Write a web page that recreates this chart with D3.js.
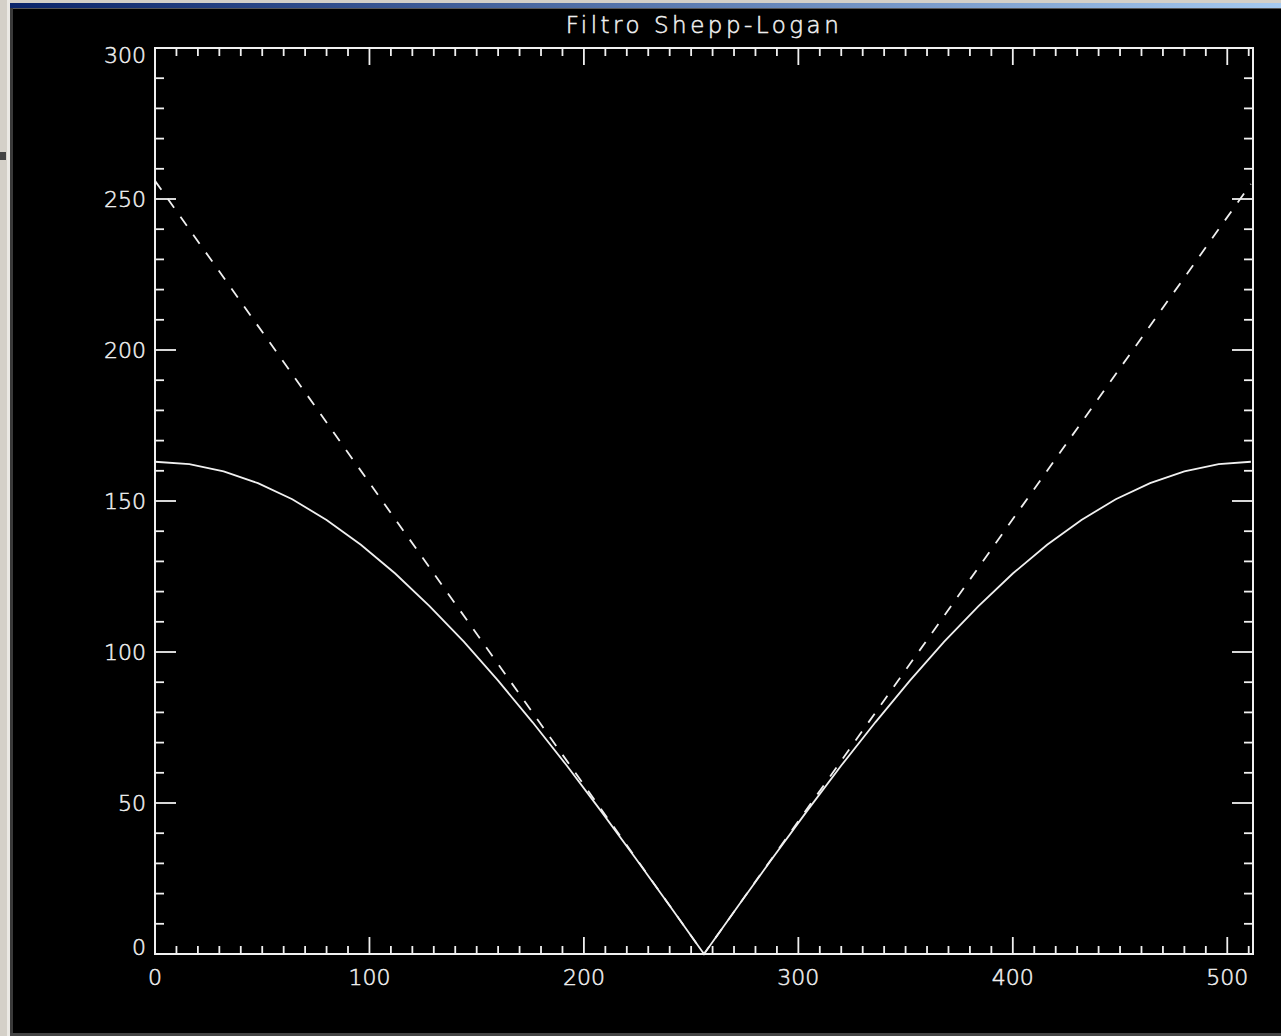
<!DOCTYPE html>
<html>
<head>
<meta charset="utf-8">
<script src="https://cdn.jsdelivr.net/npm/d3@7"></script>
<style>
  body { margin: 0; background: #000; }
  svg { display: block; }
</style>
</head>
<body>
<div id="svg-area"></div>
<script>
// filter index (x) and values
var xIndex = [0, 16, 32, 48, 64, 80, 96, 112, 128, 144, 160, 176, 192, 208, 224, 240, 256,
  272, 288, 304, 320, 336, 352, 368, 384, 400, 416, 432, 448, 464, 480, 496, 511];
var sheppLogan = [163.0, 162.2, 159.8, 155.9, 150.6, 143.7, 135.5, 126.0, 115.2, 103.4, 90.5, 76.8, 62.4, 47.3, 31.8, 16.0, 0,
  16.0, 31.8, 47.3, 62.4, 76.8, 90.5, 103.4, 115.2, 126.0, 135.5, 143.7, 150.6, 155.9, 159.8, 162.2, 163.0];
// ramp (dashed)
var rampX = [0, 256, 511];
var rampY = [256, 0, 255];

var xTicks = [0, 100, 200, 300, 400, 500];
var yTicks = [0, 50, 100, 150, 200, 250, 300];
var titleText = "Filtro Shepp-Logan";

var svgWidth = 1281;
var svgHeight = 1036;

var chartMargin = { top: 48, right: 28, bottom: 82, left: 155 };
var chartWidth = svgWidth - chartMargin.left - chartMargin.right;
var chartHeight = svgHeight - chartMargin.top - chartMargin.bottom;

var ink = "#f0f0f0";

var svg = d3.select("#svg-area")
  .append("svg")
  .attr("width", svgWidth)
  .attr("height", svgHeight);

// window chrome around the IDL window
var grad = svg.append("defs").append("linearGradient")
  .attr("id", "titlebar");
grad.append("stop").attr("offset", "0%").attr("stop-color", "#0a246a");
grad.append("stop").attr("offset", "100%").attr("stop-color", "#a6caf0");

svg.append("rect").attr("x", 0).attr("y", 0).attr("width", svgWidth).attr("height", svgHeight).attr("fill", "#000");
svg.append("rect").attr("x", 0).attr("y", 0).attr("width", svgWidth).attr("height", 3).attr("fill", "#d4d0c8");
svg.append("rect").attr("x", 10).attr("y", 3).attr("width", svgWidth - 10).attr("height", 5).attr("fill", "url(#titlebar)");
svg.append("rect").attr("x", 10).attr("y", 8).attr("width", svgWidth - 10).attr("height", 1).attr("fill", "#555");
svg.append("rect").attr("x", 0).attr("y", 0).attr("width", 10).attr("height", svgHeight).attr("fill", "#d4d0c8");
svg.append("rect").attr("x", 7).attr("y", 0).attr("width", 3).attr("height", svgHeight).attr("fill", "#ebe9e4");
svg.append("rect").attr("x", 10).attr("y", 8).attr("width", 3).attr("height", svgHeight).attr("fill", "#3a3a3a");
svg.append("rect").attr("x", 0).attr("y", 152).attr("width", 6).attr("height", 8).attr("fill", "#444");
svg.append("rect").attr("x", 10).attr("y", 1033).attr("width", svgWidth - 10).attr("height", 3).attr("fill", "#444");

var chartGroup = svg.append("g")
  .attr("transform", `translate(${chartMargin.left}, ${chartMargin.top})`);

var xScale = d3.scaleLinear().domain([0, 512]).range([0, chartWidth]);
var yScale = d3.scaleLinear().domain([0, 300]).range([chartHeight, 0]);

// ticks: IDL style, inside on all four sides
var xMinor = d3.range(0, 512, 10).filter(d => d % 100 != 0);
var yMinor = d3.range(0, 300, 10).filter(d => d % 50 != 0);

function tickLines(sel, data, isMajor, axis) {
  var lenX = isMajor ? 17 : 8;
  var lenY = isMajor ? 21 : 9;
  var side = sel.attr("data-side");
  sel.selectAll(null)
    .data(data)
    .enter()
    .append("line")
    .attr("x1", d => axis == "x" ? xScale(d) : (side == "right" ? chartWidth : 0))
    .attr("x2", d => axis == "x" ? xScale(d) : (side == "right" ? chartWidth - lenY : lenY))
    .attr("y1", d => axis == "y" ? yScale(d) : (side == "top" ? 0 : chartHeight))
    .attr("y2", d => axis == "y" ? yScale(d) : (side == "top" ? lenX : chartHeight - lenX))
    .attr("stroke", ink)
    .attr("stroke-width", 1.8);
}

["bottom", "top"].forEach(function(side) {
  var g = chartGroup.append("g").attr("data-side", side);
  tickLines(g, xTicks, true, "x");
  tickLines(g, xMinor, false, "x");
});
["left", "right"].forEach(function(side) {
  var g = chartGroup.append("g").attr("data-side", side);
  tickLines(g, yTicks, true, "y");
  tickLines(g, yMinor, false, "y");
});

// box
chartGroup.append("rect")
  .attr("x", 0).attr("y", 0)
  .attr("width", chartWidth).attr("height", chartHeight)
  .attr("fill", "none")
  .attr("stroke", ink)
  .attr("stroke-width", 2);

// tick labels
var font = "'DejaVu Sans', sans-serif";

function labelStyle(sel, size) {
  sel.style("font-family", font)
    .style("font-size", size)
    .style("font-weight", 200)
    .attr("fill", ink)
    .attr("stroke", ink)
    .attr("stroke-width", 0.5);
}

chartGroup.selectAll(".xlab")
  .data(xTicks)
  .enter()
  .append("text")
  .attr("class", "xlab")
  .attr("x", d => xScale(d))
  .attr("y", chartHeight + 31)
  .attr("text-anchor", "middle")
  .call(labelStyle, "22px")
  .text(d => d);

chartGroup.selectAll(".ylab")
  .data(yTicks)
  .enter()
  .append("text")
  .attr("class", "ylab")
  .attr("x", -9)
  .attr("y", d => Math.max(15, Math.min(chartHeight + 1, yScale(d) + 8)))
  .attr("text-anchor", "end")
  .call(labelStyle, "22px")
  .text(d => d);

// title
svg.append("text")
  .attr("x", chartMargin.left + chartWidth / 2)
  .attr("y", 33)
  .attr("text-anchor", "middle")
  .call(labelStyle, "23px")
  .style("letter-spacing", "3.5px")
  .text(titleText);

// curves
var line = d3.line()
  .x(d => xScale(d[0]))
  .y(d => yScale(d[1]));

chartGroup.append("path")
  .datum(rampX.map((x, i) => [x, rampY[i]]))
  .attr("d", line)
  .attr("fill", "none")
  .attr("stroke", ink)
  .attr("stroke-width", 1.8)
  .attr("stroke-dasharray", "11,11");

chartGroup.append("path")
  .datum(xIndex.map((x, i) => [x, sheppLogan[i]]))
  .attr("d", line)
  .attr("fill", "none")
  .attr("stroke", ink)
  .attr("stroke-width", 1.8);
</script>
</body>
</html>
